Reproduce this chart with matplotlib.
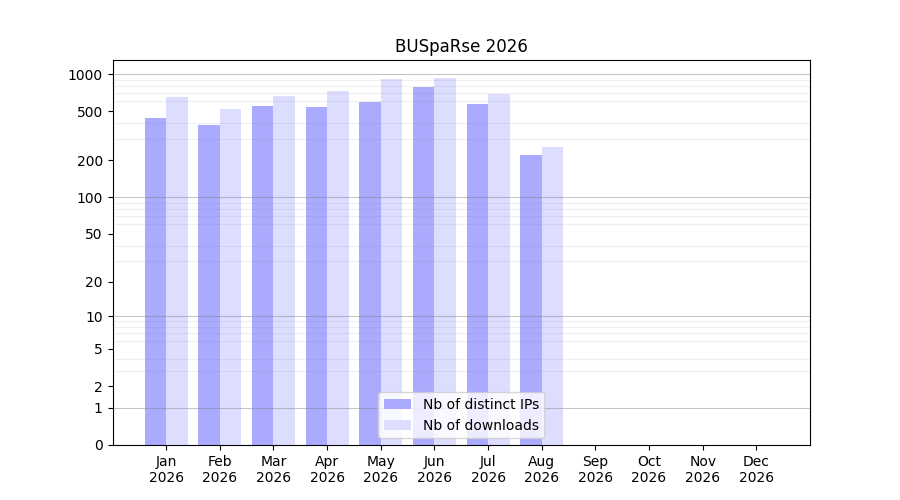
import numpy as np
import matplotlib as mpl
mpl.use('Agg')
import matplotlib.pyplot as plt
from matplotlib.ticker import FixedLocator, NullFormatter

months = ['Jan', 'Feb', 'Mar', 'Apr', 'May', 'Jun',
          'Jul', 'Aug', 'Sep', 'Oct', 'Nov', 'Dec']
year = 2026
distinct_ips = [441, 387, 552, 542, 595, 787, 573, 221, 0, 0, 0, 0]
downloads = [654, 522, 665, 730, 914, 931, 695, 257, 0, 0, 0, 0]
ytick_values = [0, 1, 2, 5, 10, 20, 50, 100, 200, 500, 1000]


def forward(y):
    return np.log10(1 + np.asarray(y, dtype=float))


def inverse(y):
    return 10 ** np.asarray(y, dtype=float) - 1


fig, ax = plt.subplots(figsize=(9, 5), dpi=100)
x = np.arange(1, len(months) + 1)

ax.bar(x - 0.2, distinct_ips, width=0.4, color='#aaaaff',
       label='Nb of distinct IPs')
ax.bar(x + 0.2, downloads, width=0.4, color='#ddddff',
       label='Nb of downloads')

ax.set_yscale('function', functions=(forward, inverse))
ax.set_ylim(0, 1300)
ax.set_xlim(0, 13)

# major labels and light/dark grid lines
ax.yaxis.set_major_locator(FixedLocator(ytick_values))
ax.set_yticklabels([str(v) for v in ytick_values])
minors = [k * 10 ** d for d in range(0, 4) for k in range(1, 10) if k * 10 ** d < 1300]
ax.yaxis.set_minor_locator(FixedLocator(minors))
ax.yaxis.set_minor_formatter(NullFormatter())
ax.tick_params(axis='y', which='minor', length=0)
ax.grid(axis='y', which='minor', color='0.5', alpha=0.12, linewidth=0.8)
ax.set_axisbelow(False)
decades = [1, 10, 100, 1000]
ax.hlines(decades, 0, 13, colors='0.5', alpha=0.45, linewidth=0.8, zorder=3)

ax.set_xticks(x)
ax.set_xticklabels(['{}\n{}'.format(m, year) for m in months])

ax.set_title('BUSpaRse {}'.format(year))
ax.legend(loc='lower center')

fig.savefig('out.png', dpi=100)
plt.close('all')
